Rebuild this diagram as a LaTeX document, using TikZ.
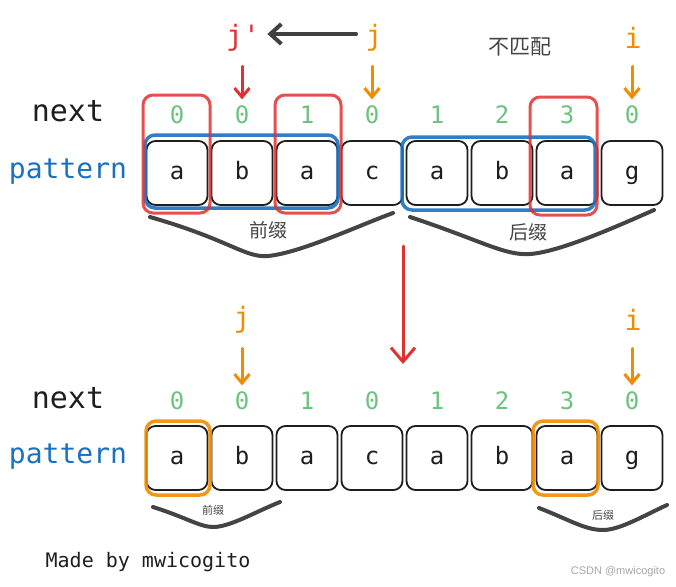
\documentclass[tikz,border=0pt]{standalone}
\usepackage{fontspec}
\setmainfont{DejaVu Sans Mono}
\setmonofont{DejaVu Sans Mono}
\newfontfamily\cjk{Noto Sans CJK SC}
\newfontfamily\wm{Liberation Sans}
\usetikzlibrary{arrows.meta}
\definecolor{exred}{HTML}{E03131}
\definecolor{exorange}{HTML}{F08C00}
\definecolor{exgreen}{HTML}{6CC27F}
\definecolor{exblue}{HTML}{1971C2}
\definecolor{exdark}{HTML}{1E1E1E}
\definecolor{exgray}{HTML}{444444}
\tikzset{
  cell/.style={draw=exdark, line width=1.8pt, rounded corners=9pt, minimum width=61pt, minimum height=64pt, text height=13pt, text depth=0pt, font=\fontsize{24}{24}\selectfont, text=exdark},
  digit/.style={text=exgreen, font=\fontsize{24}{24}\selectfont},
  lab/.style={font=\fontsize{30}{30}\selectfont},
  ptr/.style={font=\fontsize{28}{28}\selectfont},
  redbox/.style={draw=exred, line width=3pt, rounded corners=10pt, opacity=0.85},
  bluebox/.style={draw=exblue, line width=3.5pt, rounded corners=10pt, opacity=0.9},
  orbox/.style={draw=exorange, line width=3.5pt, rounded corners=10pt, opacity=0.9},
  brace/.style={draw=exgray, line width=4pt, line cap=round},
  arr/.style={line width=3pt, -{Straight Barb[length=9pt,width=15pt]}, line cap=round},
}
\begin{document}
\begin{tikzpicture}[x=1pt,y=-1pt]
\useasboundingbox[fill=white] (0,0) rectangle (676,586);
% labels
\node[lab, text=exdark] (next1) at (68,111) {next};
\node[lab, text=exblue, font=\fontsize{28}{28}\selectfont] (pat1) at (68,172) {pattern};
\node[lab, text=exdark] (next2) at (68,398) {next};
\node[lab, text=exblue, font=\fontsize{28}{28}\selectfont] (pat2) at (68,457) {pattern};
% cells
\foreach \i/\ch in {1/a,2/b,3/a,4/c,5/a,6/b,7/a,8/g}{
  \node[cell] (c\i) at ({112+65*\i},173) {\ch};
  \node[cell] (d\i) at ({112+65*\i},458) {\ch};
}
\foreach \i/\d in {1/0,2/0,3/1,4/0,5/1,6/2,7/3,8/0}{
  \node[digit] (n\i) at ({112+65*\i},115) {\d};
  \node[digit] (m\i) at ({112+65*\i},401) {\d};
}
% top boxes
\draw[bluebox] (145,135) rectangle (338,208);
\draw[bluebox] (402,137) rectangle (595,210);
\draw[redbox] (143,95) rectangle (210,213);
\draw[redbox] (275,95) rectangle (341,213);
\draw[redbox] (530,97) rectangle (597,215);
% pointers top
\node[ptr, text=exred, font=\ttfamily\fontsize{28}{28}\selectfont] (jp) at (243,38) {j'};
\node[ptr, text=exorange] (j1) at (374,38) {j};
\node[ptr, text=exorange] (i1) at (633,38) {i};
\node[font=\cjk\fontsize{21}{21}\selectfont, text=exgray] (nm) at (520,47) {不匹配};
\draw[arr, exdark!85, line width=4pt, -{Straight Barb[length=11pt,width=20pt]}] ([xshift=-6pt,yshift=4pt]j1.west) -- ([xshift=4pt,yshift=4pt]jp.east);
\draw[arr, exred] ([yshift=36pt]n2.north) -- ([yshift=3pt]n2.north);
\draw[arr, exorange] ([yshift=36pt]n4.north) -- ([yshift=3pt]n4.north);
\draw[arr, exorange] ([yshift=36pt]n8.north) -- ([yshift=3pt]n8.north);
% braces top
\draw[brace] (150,217) .. controls (230,240) and (245,258) .. (268,256) .. controls (300,253) and (360,225) .. (393,213);
\node[font=\cjk\fontsize{19}{19}\selectfont, text=exgray] (pre1) at (268,230) {前缀};
\draw[brace] (410,217) .. controls (480,240) and (505,256) .. (530,254) .. controls (560,252) and (620,225) .. (654,210);
\node[font=\cjk\fontsize{19}{19}\selectfont, text=exgray] (suf1) at (528,232) {后缀};
% big red arrow
\coordinate (bigs) at (403,246);
\coordinate (bige) at (403,364);
\draw[arr, exred, -{Straight Barb[length=14pt,width=24pt]}] (bigs) -- (bige);
% bottom pointers
\node[ptr, text=exorange] (j2) at (242,320) {j};
\node[ptr, text=exorange] (i2) at (633,320) {i};
\draw[arr, exorange] ([yshift=40pt]m2.north) -- ([yshift=3pt]m2.north);
\draw[arr, exorange] ([yshift=40pt]m8.north) -- ([yshift=3pt]m8.north);
% bottom boxes
\draw[orbox] (146,421) rectangle (210,495);
\draw[orbox] (533,421) rectangle (598,495);
% bottom braces
\draw[brace] (153,507) .. controls (185,517) and (200,527) .. (213,527) .. controls (230,527) and (255,512) .. (280,502);
\node[font=\cjk\fontsize{11}{11}\selectfont, text=exgray] (pre2) at (213,510) {前缀};
\draw[brace] (539,508) .. controls (570,520) and (585,530) .. (603,530) .. controls (620,530) and (645,515) .. (667,505);
\node[font=\cjk\fontsize{11}{11}\selectfont, text=exgray] (suf2) at (603,515) {后缀};
% footer
\node[font=\fontsize{20}{20}\selectfont, text=exdark] (made) at (148,562) {Made by mwicogito};
\node[font=\wm\fontsize{11}{11}\selectfont, text=gray!70] (csdn) at (618,572) {CSDN @mwicogito};
\end{tikzpicture}
\end{document}
